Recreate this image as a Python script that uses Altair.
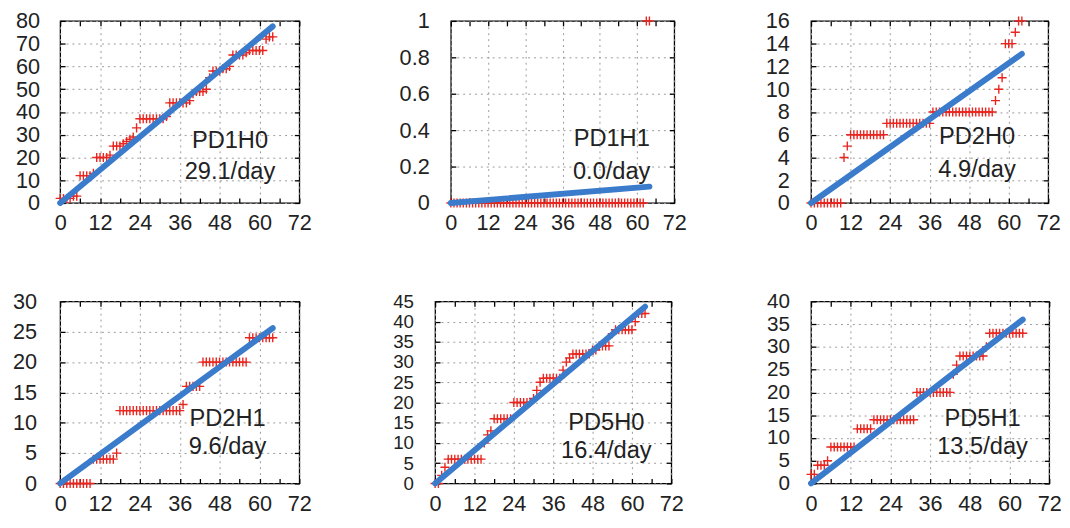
import altair as alt
import pandas as pd

# ---------------- data ----------------
hours = [0, 1, 2, 3, 4, 5, 6, 7, 8, 9, 10, 11, 12, 13, 14, 15, 16, 17, 18, 19,
         20, 21, 22, 23, 24, 25, 26, 27, 28, 29, 30, 31, 32, 33, 34, 35, 36, 37,
         38, 39, 40, 41, 42, 43, 44, 45, 46, 47, 48, 49, 50, 51, 52, 53, 54, 55,
         56, 57, 58, 59, 60, 61, 62, 63, 64]

pd1h0 = [2, 2, 2, 2, 3, 3, 12, 12, 12, 12, 13, 20, 20, 20, 20, 21, 25, 25, 25, 26,
         27, 28, 29, 33, 37, 37, 37, 37, 37, 37, 37, 37, 38, 44, 44, 44, 44, 44, 44,
         45, 48, 49, 49, 49, 50, 55, 58, 58, 58, 59, 59, 60, 65, 65, 65, 65, 66, 67,
         67, 67, 67, 67, 72, 73, 73]
pd1h1 = [0, 0, 0, 0, 0, 0, 0, 0, 0, 0, 0, 0, 0, 0, 0, 0, 0, 0, 0, 0, 0, 0, 0, 0,
         0, 0, 0, 0, 0, 0, 0, 0, 0, 0, 0, 0, 0, 0, 0, 0, 0, 0, 0, 0, 0, 0, 0, 0, 0,
         0, 0, 0, 0, 0, 0, 0, 0, 0, 0, 0, 0, 0, 0, 1, 1]
pd2h0 = [0, 0, 0, 0, 0, 0, 0, 0, 0, 0, 4, 5, 6, 6, 6, 6, 6, 6, 6, 6, 6, 6, 6, 7,
         7, 7, 7, 7, 7, 7, 7, 7, 7, 7, 7, 7, 7, 8, 8, 8, 8, 8, 8, 8, 8, 8, 8, 8, 8,
         8, 8, 8, 8, 8, 8, 8, 9, 10, 11, 14, 14, 14, 15, 16, 16]
pd2h1 = [0, 0, 0, 0, 0, 0, 0, 0, 0, 0, 4, 4, 4, 4, 4, 4, 4, 5, 12, 12, 12, 12, 12,
         12, 12, 12, 12, 12, 12, 12, 12, 12, 12, 12, 12, 12, 12, 13, 16, 16, 16, 16,
         16, 20, 20, 20, 20, 20, 20, 20, 20, 20, 20, 20, 20, 20, 20, 24, 24, 24, 24,
         24, 24, 24, 24]
pd5h0 = [0, 0, 2, 4, 6, 6, 6, 6, 6, 6, 6, 6, 6, 6, 6, 10, 12, 13, 16, 16, 16, 16,
         16, 16, 20, 20, 20, 20, 20, 20, 21, 23, 25, 26, 26, 26, 26, 26, 26, 28, 30,
         31, 32, 32, 32, 32, 32, 32, 33, 33, 34, 34, 34, 34, 37, 38, 38, 38, 38, 38,
         38, 40, 42, 42, 42]
pd5h1 = [2, 2, 4, 4, 4, 5, 8, 8, 8, 8, 8, 8, 8, 8, 12, 12, 12, 12, 12, 14, 14, 14,
         14, 14, 14, 14, 14, 14, 14, 14, 14, 14, 20, 20, 20, 20, 20, 20, 20, 20, 20,
         20, 20, 24, 26, 28, 28, 28, 28, 28, 28, 28, 28, 30, 33, 33, 33, 33, 33, 33,
         33, 33, 33, 33, 33]

series = [pd1h0, pd1h1, pd2h0, pd2h1, pd5h0, pd5h1]
names = ["PD1H0", "PD1H1", "PD2H0", "PD2H1", "PD5H0", "PD5H1"]
rates = ["29.1/day", "0.0/day", "4.9/day", "9.6/day", "16.4/day", "13.5/day"]

fit_x = [0, 64]
fit_end = [77.6, 0.09, 13.1, 25.6, 43.7, 36.0]

x_labels = [0, 12, 24, 36, 48, 60, 72]
x_minor = [0, 6, 12, 18, 24, 30, 36, 42, 48, 54, 60, 66, 72]
y_max = [80, 1, 16, 30, 45, 40]
y_ticks = [
    [0, 10, 20, 30, 40, 50, 60, 70, 80],
    [0, 0.2, 0.4, 0.6, 0.8, 1],
    [0, 2, 4, 6, 8, 10, 12, 14, 16],
    [0, 5, 10, 15, 20, 25, 30],
    [0, 5, 10, 15, 20, 25, 30, 35, 40, 45],
    [0, 5, 10, 15, 20, 25, 30, 35, 40],
]

# ---------------- style / layout ----------------
RED = "#e8261f"
BLUE = "#3a7bcb"
FONT = "Liberation Sans"
PLUS = "M-1,0L1,0M0,-1L0,1"

# (width, height, left axis extent, label pad, y label size, text x frac, line1 y frac, line2 y frac)
layout = [
    (243, 185, 52, 21, 22, 0.71, 0.66, 0.83),
    (227, 185, 140, 22, 22, 0.72, 0.65, 0.83),
    (241, 185, 125, 22, 22, 0.70, 0.64, 0.82),
    (243, 185, 52, 24, 22, 0.70, 0.645, 0.80),
    (240, 185, 124, 22, 19, 0.725, 0.67, 0.82),
    (242, 185, 128, 22, 21, 0.72, 0.645, 0.80),
]


def panel(i):
    w, h, ext, lpad, lsize, tx, ty1, ty2 = layout[i]
    df = pd.DataFrame({"hour": hours, "count": series[i]})
    fit = pd.DataFrame({"hour": fit_x, "count": [0, fit_end[i]]})
    lab = pd.DataFrame({"name": [names[i]], "rate": [rates[i]]})
    xs = alt.Scale(domain=[0, 72], nice=False, zero=False)
    ys = alt.Scale(domain=[0, y_max[i]], nice=False, zero=False)

    tick_axis = dict(labels=False, grid=False, ticks=True, tickSize=5, offset=-5,
                     domain=False, title=None, minExtent=0, maxExtent=0)

    pts = alt.Chart(df).mark_point(
        shape=PLUS, size=85, filled=False, strokeWidth=1.4, color=RED, opacity=1
    ).encode(
        x=alt.X("hour:Q", scale=xs, axis=alt.Axis(
            values=x_labels, grid=True, ticks=False, domain=False, labelPadding=10,
            labelFlush=False, labelOverlap=False, title=None, orient="bottom")),
        y=alt.Y("count:Q", scale=ys, axis=alt.Axis(
            values=y_ticks[i], format="~f", grid=True, ticks=False, domain=False,
            labelPadding=lpad, labelFontSize=lsize, labelOverlap=False,
            minExtent=ext, maxExtent=ext, title=None, orient="left")),
    )
    line = alt.Chart(fit).mark_line(
        color=BLUE, strokeWidth=6, strokeCap="round"
    ).encode(
        x=alt.X("hour:Q", scale=xs, axis=alt.Axis(values=x_minor, orient="bottom", **tick_axis)),
        y=alt.Y("count:Q", scale=ys, axis=alt.Axis(values=y_ticks[i], orient="left", **tick_axis)),
    )
    ghost = alt.Chart(fit).mark_point(opacity=0).encode(
        x=alt.X("hour:Q", scale=xs, axis=alt.Axis(values=x_minor, orient="top", **tick_axis)),
        y=alt.Y("count:Q", scale=ys, axis=alt.Axis(values=y_ticks[i], orient="right", **tick_axis)),
    )
    t1 = alt.Chart(lab).mark_text(
        font=FONT, fontSize=24, color="#222222", align="center", baseline="middle"
    ).encode(x=alt.value(w * tx), y=alt.value(h * ty1), text="name:N")
    t2 = alt.Chart(lab).mark_text(
        font=FONT, fontSize=24, color="#222222", align="center", baseline="middle"
    ).encode(x=alt.value(w * tx), y=alt.value(h * ty2), text="rate:N")

    return alt.layer(pts, line, ghost, t1, t2).resolve_axis(
        x="independent", y="independent"
    ).properties(width=w, height=h)


row1 = alt.hconcat(panel(0), panel(1), panel(2), spacing=0)
row2 = alt.hconcat(panel(3), panel(4), panel(5), spacing=0)

chart = alt.vconcat(row1, row2, spacing=56).properties(
    padding={"left": 0, "top": -3, "right": 0, "bottom": 0},
    background="white",
).configure_view(
    stroke="black", strokeWidth=1.3
).configure_axis(
    labelFont=FONT, labelFontSize=22, labelColor="#222222",
    gridColor="#9a9a9a", gridDash=[2, 4], gridWidth=1,
    tickColor="black", tickWidth=1.3,
)

chart.save("out.html", embed_options={"renderer": "svg", "actions": False})
